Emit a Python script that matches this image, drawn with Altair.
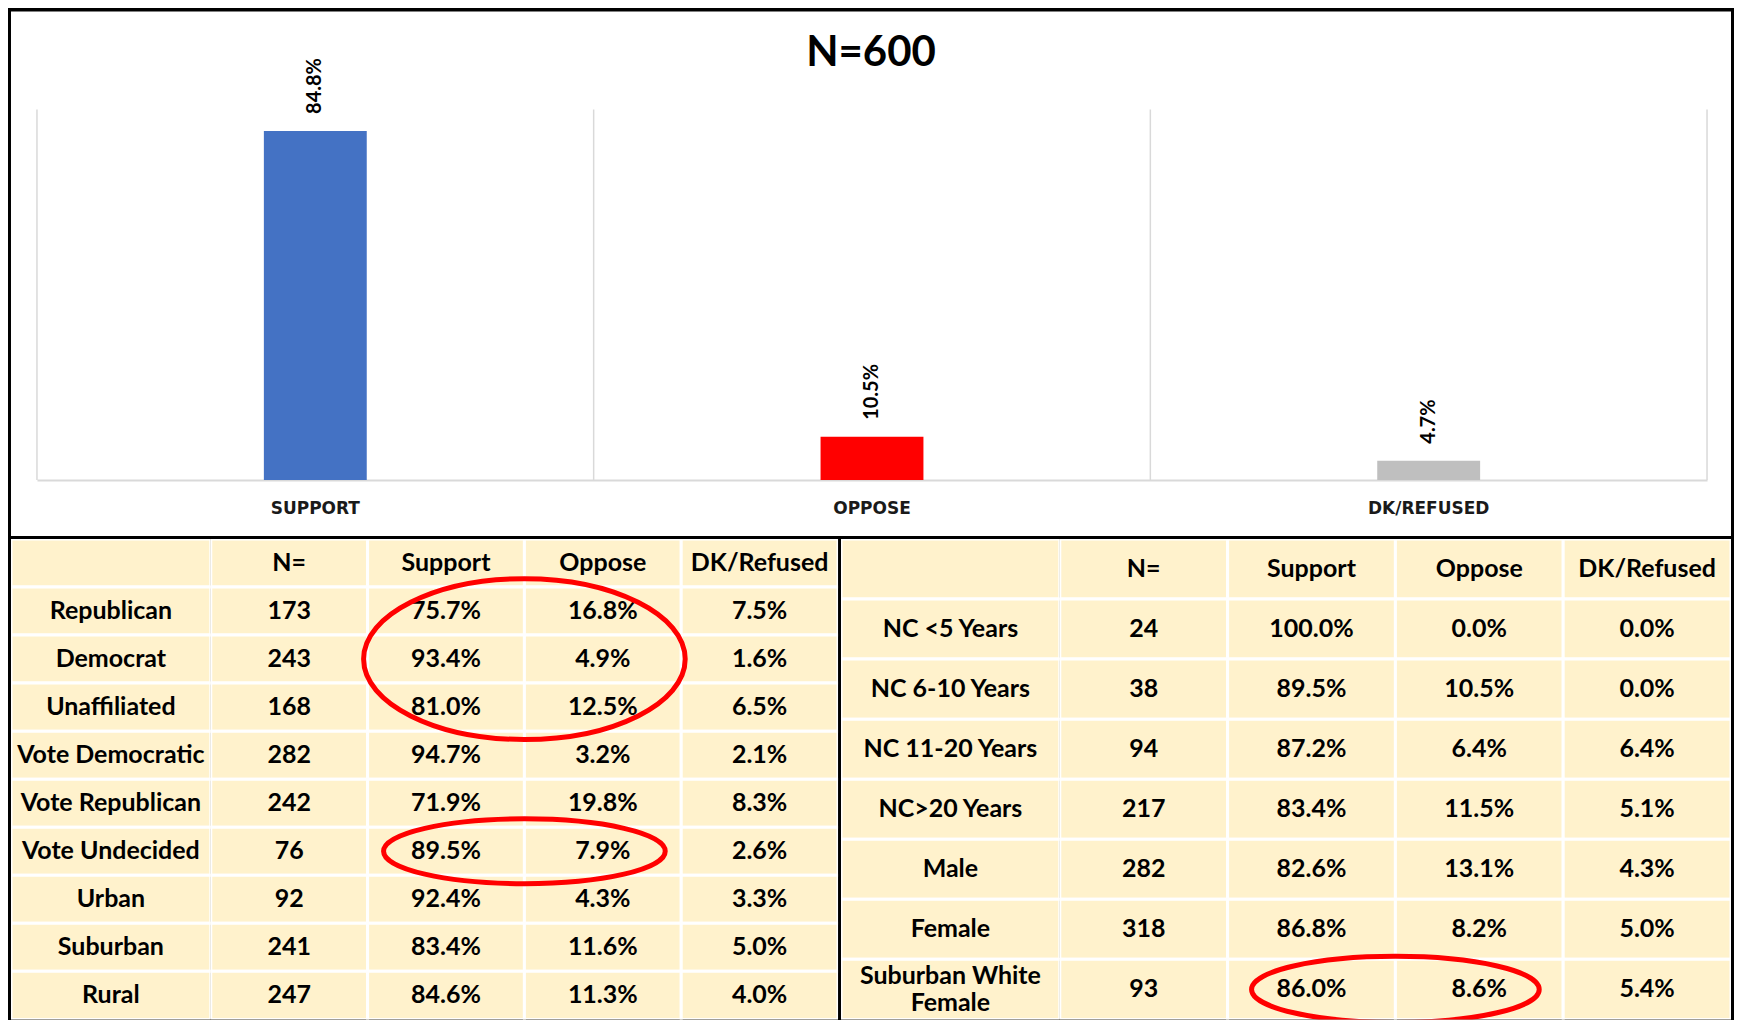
import altair as alt
import pandas as pd

# ---------------- data ----------------
title_text = "N=600"
bar_categories = ["SUPPORT", "OPPOSE", "DK/REFUSED"]
bar_values = [84.8, 10.5, 4.7]
bar_colors = ["#4472C4", "#FF0000", "#BFBFBF"]

table_columns = ["N=", "Support", "Oppose", "DK/Refused"]

left_groups = ["Republican", "Democrat", "Unaffiliated", "Vote Democratic",
               "Vote Republican", "Vote Undecided", "Urban", "Suburban", "Rural"]
left_n = [173, 243, 168, 282, 242, 76, 92, 241, 247]
left_support = [75.7, 93.4, 81.0, 94.7, 71.9, 89.5, 92.4, 83.4, 84.6]
left_oppose = [16.8, 4.9, 12.5, 3.2, 19.8, 7.9, 4.3, 11.6, 11.3]
left_dk = [7.5, 1.6, 6.5, 2.1, 8.3, 2.6, 3.3, 5.0, 4.0]

right_groups = ["NC <5 Years", "NC 6-10 Years", "NC 11-20 Years", "NC>20 Years",
                "Male", "Female", "Suburban White\nFemale"]
right_n = [24, 38, 94, 217, 282, 318, 93]
right_support = [100.0, 89.5, 87.2, 83.4, 82.6, 86.8, 86.0]
right_oppose = [0.0, 10.5, 6.4, 11.5, 13.1, 8.2, 8.6]
right_dk = [0.0, 0.0, 6.4, 5.1, 4.3, 5.0, 5.4]

# highlighted (circled) cells: centre row, spanning Support+Oppose
left_big_circle_rows = ["Democrat"]
left_small_circle_rows = ["Vote Undecided"]
right_small_circle_rows = ["Suburban White\nFemale"]

# ---------------- styles ----------------
CELL_FILL = "#FFF2CC"
TABLE_FONT = "Lato"
TABLE_SIZE = 25
HDR = "_hdr"


def ellipse_path(e):
    k = 0.5523
    return (f"M 1 0 C 1 {k*e:.4f} {k:.4f} {e:.4f} 0 {e:.4f} "
            f"C {-k:.4f} {e:.4f} -1 {k*e:.4f} -1 0 "
            f"C -1 {-k*e:.4f} {-k:.4f} {-e:.4f} 0 {-e:.4f} "
            f"C {k:.4f} {-e:.4f} 1 {-k*e:.4f} 1 0 Z")


def fmt(v):
    return f"{v:.1f}%"


def build_table(groups, ns, sup, opp, dk, label_w, data_w, height, circles):
    rows = [HDR] + groups
    yscale = alt.Scale(domain=rows, paddingInner=0, paddingOuter=0)

    lab_df = pd.DataFrame({"row": rows, "text": [""] + groups, "col": ["label"] * len(rows)})
    lab_base = alt.Chart(lab_df).encode(
        x=alt.X("col:N", axis=None, scale=alt.Scale(paddingInner=0, paddingOuter=0)),
        y=alt.Y("row:N", axis=None, scale=yscale),
    )
    multi = "indexof(datum.text, '\\n') >= 0"
    single = "indexof(datum.text, '\\n') < 0"
    lab_chart = alt.layer(
        lab_base.mark_rect(fill=CELL_FILL, stroke="white", strokeWidth=3, clip=True),
        lab_base.transform_filter(single).mark_text(
            font=TABLE_FONT, fontSize=TABLE_SIZE, fontWeight="bold",
            color="black").encode(text="text:N"),
        lab_base.transform_filter(multi).mark_text(
            font=TABLE_FONT, fontSize=TABLE_SIZE, fontWeight="bold",
            color="black", lineBreak="\n", dy=-13, lineHeight=27).encode(text="text:N"),
    ).properties(width=label_w, height=height, view=alt.ViewBackground(stroke=None))

    recs = []
    for c in table_columns:
        recs.append({"row": HDR, "col": c, "text": c})
    for i, g in enumerate(groups):
        recs.append({"row": g, "col": "N=", "text": str(ns[i])})
        recs.append({"row": g, "col": "Support", "text": fmt(sup[i])})
        recs.append({"row": g, "col": "Oppose", "text": fmt(opp[i])})
        recs.append({"row": g, "col": "DK/Refused", "text": fmt(dk[i])})
    cell_df = pd.DataFrame(recs)
    xscale = alt.Scale(domain=table_columns, paddingInner=0, paddingOuter=0)
    base = alt.Chart(cell_df).encode(
        x=alt.X("col:N", axis=None, scale=xscale),
        y=alt.Y("row:N", axis=None, scale=yscale),
    )
    layers = [
        base.mark_rect(fill=CELL_FILL, stroke="white", strokeWidth=3, clip=True),
        base.mark_text(font=TABLE_FONT, fontSize=TABLE_SIZE, fontWeight="bold",
                       color="black").encode(text="text:N"),
    ]
    for circ_rows, e, size in circles:
        cdf = pd.DataFrame({"row": circ_rows, "col": ["Support"] * len(circ_rows)})
        layers.append(
            alt.Chart(cdf).mark_point(
                shape=ellipse_path(e), size=size, filled=False, stroke="#FF0000",
                strokeWidth=5, opacity=1, clip=True,
            ).encode(
                x=alt.X("col:N", bandPosition=1, axis=None),
                y=alt.Y("row:N", axis=None),
            )
        )
    data_chart = alt.layer(*layers).properties(
        width=data_w, height=height, view=alt.ViewBackground(stroke=None))
    return alt.hconcat(lab_chart, data_chart, spacing=0)


# ---------------- bar chart ----------------
bar_df = pd.DataFrame({
    "cat": bar_categories,
    "value": bar_values,
    "label": [fmt(v) for v in bar_values],
})
xs = alt.Scale(domain=bar_categories, range=[26, 1698], paddingInner=0, paddingOuter=0)
ys = alt.Scale(domain=[0, 90], range=[469, 98])

x_axis = alt.Axis(title=None, orient="bottom", offset=-56, domain=True,
                  domainColor="#D9D9D9", domainWidth=2, ticks=False, tickSize=0,
                  grid=False, labelPadding=20, labelFont="DejaVu Sans",
                  labelFontSize=17, labelFontWeight="bold", labelColor="#1a1a1a",
                  labelAngle=0, bandPosition=0.5)

bars = alt.Chart(bar_df).mark_bar(size=103).encode(
    x=alt.X("cat:N", scale=xs, axis=x_axis),
    y=alt.Y("value:Q", scale=ys, axis=None),
    color=alt.Color("cat:N", scale=alt.Scale(domain=bar_categories, range=bar_colors), legend=None),
)
grid_left = alt.Chart(bar_df).mark_rule(color="#D9D9D9", strokeWidth=1.5).encode(
    x=alt.X("cat:N", bandPosition=0),
    y=alt.datum(0),
    y2=alt.datum(90),
)
grid_right = alt.Chart(bar_df).transform_filter(
    alt.datum.cat == bar_categories[-1]
).mark_rule(color="#D9D9D9", strokeWidth=1.5).encode(
    x=alt.X("cat:N", bandPosition=1),
    y=alt.datum(0),
    y2=alt.datum(90),
)
labels = alt.Chart(bar_df).mark_text(
    angle=270, align="left", baseline="middle", dx=17,
    font="Lato", fontWeight="bold", fontSize=20, color="black",
).encode(
    x=alt.X("cat:N"),
    y=alt.Y("value:Q"),
    text="label:N",
)

top = alt.layer(bars, grid_left, grid_right, labels).properties(
    width=1722, height=525,
    title=alt.TitleParams(text=title_text, font="Lato", fontSize=42, fontWeight="bold",
                          color="black", anchor="middle", offset=-63),
    view=alt.ViewBackground(fill="white", stroke=None),
)

# ---------------- tables ----------------
TABLE_H = 481
left_table = build_table(
    left_groups, left_n, left_support, left_oppose, left_dk, 200, 628, TABLE_H,
    [(left_big_circle_rows, 0.5, 322 ** 2), (left_small_circle_rows, 0.23, 282 ** 2)],
)
right_table = build_table(
    right_groups, right_n, right_support, right_oppose, right_dk, 219, 672, TABLE_H,
    [(right_small_circle_rows, 0.23, 288 ** 2)],
)
bottom = alt.hconcat(left_table, right_table, spacing=3)

chart = alt.vconcat(top, bottom, spacing=3).properties(
    background="black",
    padding={"top": 3, "left": 3, "right": 3, "bottom": 0},
).configure_view(stroke=None)

chart.save("out.html", embed_options={"renderer": "svg", "actions": False})
